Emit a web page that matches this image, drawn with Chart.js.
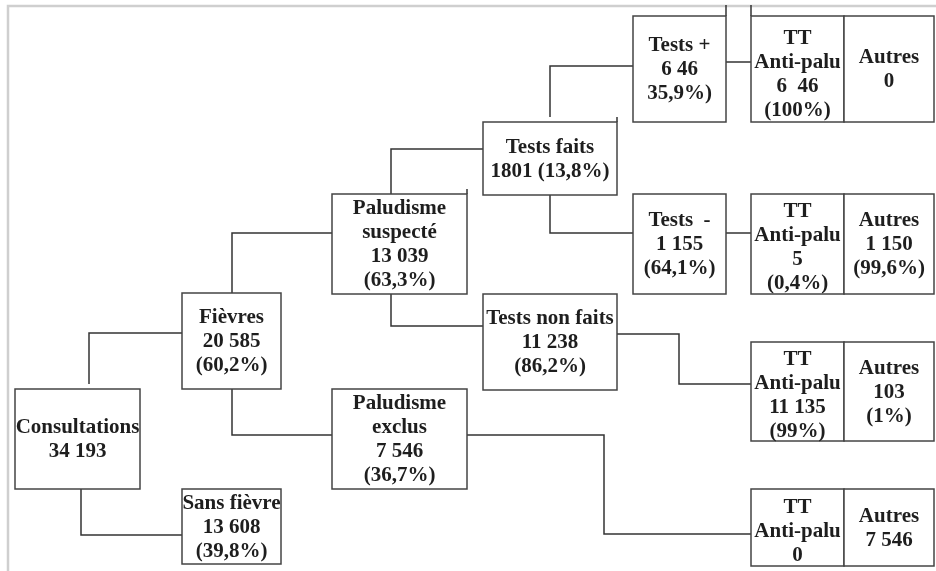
<!DOCTYPE html>
<html>
<head>
<meta charset="utf-8">
<script src="https://cdn.jsdelivr.net/npm/chart.js@4"></script>
<style>
  html, body { margin: 0; padding: 0; background: #fff; }
  #wrap { width: 936px; height: 571px; position: relative; }
</style>
</head>
<body>
<div id="wrap"><canvas id="arbre"></canvas></div>
<script>
// node texts (as printed in the figure)
var consultations = ['Consultations', '34 193'];
var fievres = ['Fièvres', '20 585', '(60,2%)'];
var sansFievre = ['Sans fièvre', '13 608', '(39,8%)'];
var paluSuspect = ['Paludisme', 'suspecté', '13 039', '(63,3%)'];
var paluExclus = ['Paludisme', 'exclus', '7 546', '(36,7%)'];
var testsFaits = ['Tests faits', '1801 (13,8%)'];
var testsNonFaits = ['Tests non faits', '11 238', '(86,2%)'];
var testsPlus = ['Tests +', '6 46', '35,9%)'];
var testsMoins = ['Tests  -', '1 155', '(64,1%)'];
var ttPlus = ['TT', 'Anti-palu', '6  46', '(100%)'];
var autresPlus = ['Autres', '0'];
var ttMoins = ['TT', 'Anti-palu', '5', '(0,4%)'];
var autresMoins = ['Autres', '1 150', '(99,6%)'];
var ttNonFaits = ['TT', 'Anti-palu', '11 135', '(99%)'];
var autresNonFaits = ['Autres', '103', '(1%)'];
var ttExclus = ['TT', 'Anti-palu', '0'];
var autresExclus = ['Autres', '7 546'];

// layout: boxes [x, y, w, h] in diagram units
var boxes = [
    { text: consultations, r: [15, 389, 125, 100] },
    { text: fievres, r: [182, 293, 99, 96] },
    { text: sansFievre, r: [182, 489, 99, 75] },
    { text: paluSuspect, r: [332, 194, 135, 100] },
    { text: paluExclus, r: [332, 389, 135, 100] },
    { text: testsFaits, r: [483, 122, 134, 73] },
    { text: testsNonFaits, r: [483, 294, 134, 96] },
    { text: testsPlus, r: [633, 16, 93, 106] },
    { text: testsMoins, r: [633, 194, 93, 100] },
    { text: ttPlus, r: [751, 16, 93, 106], dy: 5 },
    { text: autresPlus, r: [844, 16, 90, 106] },
    { text: ttMoins, r: [751, 194, 93, 100], dy: 3 },
    { text: autresMoins, r: [844, 194, 90, 100] },
    { text: ttNonFaits, r: [751, 342, 93, 99], dy: 3 },
    { text: autresNonFaits, r: [844, 342, 90, 99] },
    { text: ttExclus, r: [751, 489, 93, 77], dy: 3 },
    { text: autresExclus, r: [844, 489, 90, 77] },
];

// elbow connectors
var links = [
    [[89, 384], [89, 333], [182, 333]],
    [[81, 485], [81, 535], [182, 535]],
    [[232, 293], [232, 233], [332, 233]],
    [[232, 384], [232, 435], [332, 435]],
    [[391, 194], [391, 149], [483, 149]],
    [[391, 290], [391, 326], [483, 326]],
    [[550, 117], [550, 66], [633, 66]],
    [[550, 195], [550, 233], [633, 233]],
    [[726, 62], [751, 62]],
    [[726, 233], [751, 233]],
    [[617, 334], [679, 334], [679, 384], [751, 384]],
    [[467, 435], [604, 435], [604, 534], [751, 534]],
    [[726, 5], [726, 16]],
    [[751, 5], [751, 16]],
    [[617, 117], [617, 122]],
    [[467, 189], [467, 194]],
];

var diagram = {
    id: 'diagram',
    afterDatasetsDraw: function (chart) {
        var c = chart.ctx;
        var sx = chart.scales.x, sy = chart.scales.y;
        var px = function (v) { return sx.getPixelForValue(v); };
        var py = function (v) { return sy.getPixelForValue(v); };
        c.save();

        // light frame
        c.strokeStyle = '#cfcfcf';
        c.lineWidth = 2.5;
        c.beginPath();
        c.moveTo(px(8), py(571));
        c.lineTo(px(8), py(6));
        c.lineTo(px(936), py(6));
        c.stroke();

        // connectors
        c.strokeStyle = '#333';
        c.lineWidth = 1.5;
        links.forEach(function (l) {
            c.beginPath();
            l.forEach(function (p, i) {
                if (i == 0) c.moveTo(px(p[0]), py(p[1]));
                else c.lineTo(px(p[0]), py(p[1]));
            });
            c.stroke();
        });

        // boxes
        c.strokeStyle = '#444';
        c.lineWidth = 1.5;
        boxes.forEach(function (b) {
            var x0 = px(b.r[0]), y0 = py(b.r[1]);
            var x1 = px(b.r[0] + b.r[2]), y1 = py(b.r[1] + b.r[3]);
            c.fillStyle = '#fff';
            c.fillRect(x0, y0, x1 - x0, y1 - y0);
            c.strokeRect(x0, y0, x1 - x0, y1 - y0);
        });

        // texts
        c.fillStyle = '#1e1e1e';
        c.font = 'bold 21px "Liberation Serif", "Times New Roman", serif';
        c.textAlign = 'center';
        c.textBaseline = 'middle';
        var lh = 24;
        boxes.forEach(function (b) {
            var cx = px(b.r[0] + b.r[2] / 2);
            var cy = py(b.r[1] + b.r[3] / 2) + (b.dy || 0);
            var n = b.text.length;
            b.text.forEach(function (t, i) {
                c.fillText(t, cx, cy + (i - (n - 1) / 2) * lh + 1);
            });
        });
        c.restore();
    }
};

var ctx = document.getElementById('arbre');
var myChart = new Chart(ctx, {
    type: 'scatter',
    data: {
        datasets: [{ data: [], pointRadius: 0 }]
    },
    options: {
        responsive: true,
        maintainAspectRatio: false,
        animation: false,
        layout: { padding: 0 },
        plugins: {
            legend: { display: false },
            tooltip: { enabled: false },
        },
        scales: {
            x: { type: 'linear', min: 0, max: 936, display: false },
            y: { type: 'linear', min: 0, max: 571, reverse: true, display: false },
        },
    },
    plugins: [diagram],
});
</script>
</body>
</html>
